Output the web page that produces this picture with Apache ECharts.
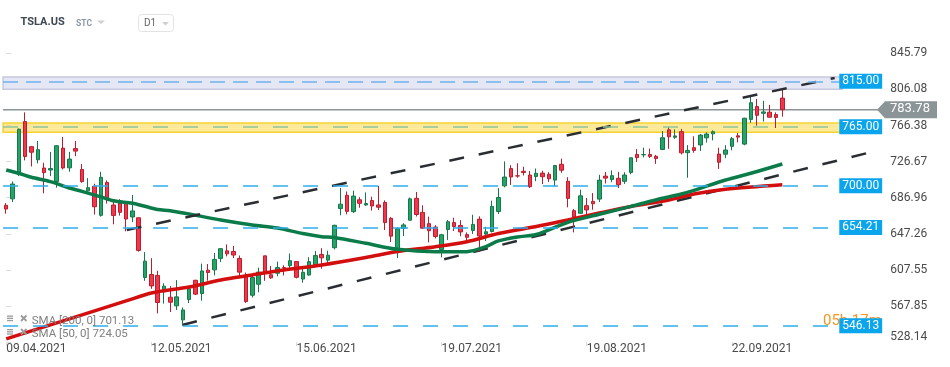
<!DOCTYPE html>
<html><head><meta charset="utf-8">
<script src="https://cdn.jsdelivr.net/npm/echarts@6/dist/echarts.min.js"></script>
<style>html,body{margin:0;padding:0;background:#fff;}#c{width:950px;height:367px;}</style>
</head><body><div id="c"></div>
<script>
const dates = ['09.04.2021','12.04.2021','13.04.2021','14.04.2021','15.04.2021','16.04.2021','19.04.2021','20.04.2021','21.04.2021','22.04.2021','23.04.2021','26.04.2021','27.04.2021','28.04.2021','29.04.2021','30.04.2021',
'03.05.2021','04.05.2021','05.05.2021','06.05.2021','07.05.2021','10.05.2021','11.05.2021','12.05.2021','13.05.2021','14.05.2021','17.05.2021','18.05.2021','19.05.2021','20.05.2021','21.05.2021','24.05.2021','25.05.2021','26.05.2021','27.05.2021','28.05.2021',
'01.06.2021','02.06.2021','03.06.2021','04.06.2021','07.06.2021','08.06.2021','09.06.2021','10.06.2021','11.06.2021','14.06.2021','15.06.2021','16.06.2021','17.06.2021','18.06.2021','21.06.2021','22.06.2021','23.06.2021','24.06.2021','25.06.2021','28.06.2021','29.06.2021','30.06.2021',
'01.07.2021','02.07.2021','06.07.2021','07.07.2021','08.07.2021','09.07.2021','12.07.2021','13.07.2021','14.07.2021','15.07.2021','16.07.2021','19.07.2021','20.07.2021','21.07.2021','22.07.2021','23.07.2021','26.07.2021','27.07.2021','28.07.2021','29.07.2021','30.07.2021',
'02.08.2021','03.08.2021','04.08.2021','05.08.2021','06.08.2021','09.08.2021','10.08.2021','11.08.2021','12.08.2021','13.08.2021','16.08.2021','17.08.2021','18.08.2021','19.08.2021','20.08.2021','23.08.2021','24.08.2021','25.08.2021','26.08.2021','27.08.2021','30.08.2021','31.08.2021',
'01.09.2021','02.09.2021','03.09.2021','07.09.2021','08.09.2021','09.09.2021','10.09.2021','13.09.2021','14.09.2021','15.09.2021','16.09.2021','17.09.2021','20.09.2021','21.09.2021','22.09.2021','23.09.2021','24.09.2021','27.09.2021','28.09.2021','29.09.2021','30.09.2021',
'01.10.2021','04.10.2021'];
const futureDates = ['05.10.2021','06.10.2021','07.10.2021','08.10.2021','11.10.2021','12.10.2021','13.10.2021','14.10.2021','15.10.2021'];

const opens = [678.6,685.7,712.7,770.7,743.1,728.7,719.6,717.4,704.8,741.5,719.8,741.0,718.0,694.5,699.5,667.6,
703.8,678.9,681.1,680.8,665.8,664.9,599.2,602.5,601.5,583.4,577.5,568.0,552.6,575.0,596.1,581.6,607.3,607.6,620.2,628.5,
627.8,620.1,601.8,579.7,591.8,623.0,602.2,603.9,610.2,612.2,616.7,597.5,601.9,613.4,624.5,618.3,632.0,675.0,689.6,671.6,684.7,679.0,
683.9,679.0,681.7,664.3,628.4,653.2,662.2,686.3,670.8,658.4,654.7,629.9,652.0,659.6,656.4,646.4,651.0,663.4,647.0,649.8,671.8,
700.0,719.0,711.0,716.0,711.9,710.2,714.0,712.7,706.3,723.7,705.1,672.7,669.8,678.2,682.9,685.4,710.7,707.0,708.3,705.0,714.7,734.5,
734.1,734.5,732.5,740.0,761.6,753.4,759.6,736.5,742.0,745.0,752.8,757.2,735.0,734.8,743.5,755.0,745.9,773.1,787.2,779.8,781.0,
778.4,796.5];
const highs = [681.0,704.8,763.0,780.8,743.7,749.4,725.4,737.3,744.8,753.8,737.4,749.3,724.0,708.5,702.3,715.5,
706.0,683.5,685.3,681.0,690.0,665.1,627.1,620.4,606.5,592.9,589.7,596.3,566.2,588.9,596.7,614.5,614.0,626.2,631.1,635.6,
633.8,623.4,604.6,600.6,610.0,623.1,611.8,616.6,612.6,625.5,616.8,608.5,621.5,628.4,631.4,628.6,657.2,697.6,693.8,694.7,687.5,692.8,
688.0,700.0,684.0,665.7,654.4,658.9,687.2,693.3,678.6,666.1,656.7,647.2,662.4,664.9,662.2,648.8,668.2,666.5,655.0,683.7,697.5,
726.9,722.7,724.9,721.0,716.3,719.0,716.6,715.2,722.8,729.9,709.5,674.6,695.8,686.6,692.1,712.1,715.2,717.0,715.4,715.0,731.0,740.4,
742.0,741.0,734.0,760.2,764.5,762.1,762.6,744.8,754.5,756.9,758.9,761.0,742.0,744.7,753.7,758.2,774.8,799.0,795.6,793.5,789.1,
780.8,807.0];
const lows = [669.4,682.1,710.7,728.0,721.3,724.6,691.8,710.7,698.0,718.0,715.5,732.6,703.4,693.6,668.5,666.1,
680.5,657.7,667.3,650.0,660.2,627.6,595.6,586.8,559.7,570.5,561.2,563.4,547.0,571.1,580.0,573.7,595.7,601.5,616.2,622.4,
620.6,599.1,571.2,577.2,582.9,595.5,597.6,600.5,601.5,609.2,598.2,593.5,601.3,611.8,608.9,615.5,630.0,667.6,668.7,670.3,675.9,678.1,
672.8,673.3,651.4,638.3,620.5,644.7,662.2,666.3,652.8,637.9,642.2,621.3,640.5,650.3,644.6,637.3,647.1,627.2,639.4,648.8,669.0,
698.4,701.0,708.9,711.4,697.6,705.1,701.9,704.2,699.4,714.3,676.4,648.8,669.4,667.6,673.7,682.3,702.6,704.0,697.6,702.1,712.7,726.4,
731.3,730.5,724.2,739.3,740.8,751.6,734.5,708.9,736.4,738.4,747.6,750.0,718.6,730.4,739.1,747.9,744.6,769.3,766.2,770.7,775.0,
763.6,776.1];
const closes = [674.5,702.0,762.3,732.2,737.0,739.8,714.6,719.0,744.1,719.7,729.4,738.2,704.7,698.0,677.0,709.4,
684.9,667.5,670.9,663.5,672.4,629.0,617.2,589.9,571.7,589.7,572.0,577.9,563.5,586.8,580.9,606.4,604.7,619.1,630.9,625.2,
623.9,605.1,572.8,599.1,605.1,603.6,598.8,610.1,609.9,617.7,599.4,604.9,616.6,623.3,620.8,623.7,656.6,679.8,671.9,688.7,680.8,680.5,
677.9,676.5,659.6,644.7,652.8,657.0,685.7,668.5,653.4,650.6,644.2,646.2,660.5,655.3,649.3,643.4,657.6,644.8,649.5,677.4,687.2,
709.7,709.7,710.9,714.6,699.1,713.8,710.0,707.8,722.3,717.2,686.2,665.7,689.0,673.5,680.3,706.3,708.5,711.2,701.2,711.9,730.9,731.0,
734.5,732.4,730.0,752.9,753.9,754.9,736.3,739.0,739.0,755.8,757.0,759.5,726.0,739.4,751.9,753.6,774.4,791.4,777.6,781.3,775.5,
775.2,783.78];

// SMA values at [candle index, price]
const sma200Points = [[0,531.6],[19,573.4],[23,582.2],[29,588.7],[34,596.5],[39,602],[44,607.5],[50,613],[57,621.2],[62,627.8],[68,633.1],[73,638.6],[78,647.6],[84,655.3],[89,662.4],[94,670.1],[99,677.3],[105,684.4],[109,691],[114,696.2],[123,701.13]];
const sma50Points = [[0,717.4],[2,713.8],[4,709.4],[7,704.6],[10,697.6],[12,693.9],[15,687.9],[17,683.6],[20,680.8],[22,677.5],[24,674],[26,672.7],[29,669],[34,662.5],[39,657],[43,653.6],[47,647.5],[50,644.1],[52,643.2],[57,636.8],[62,630.2],[68,627.6],[73,627.6],[76,633.1],[78,639.4],[81,643.8],[84,646.5],[89,659.9],[94,668.7],[99,677.4],[104,686.3],[107,691],[109,695],[114,706.4],[118,713.8],[123,724.05]];

// channel lines as [candle index, price]
const upperChannel = [[19.1,651.4],[131.3,818.7]];
const lowerChannel = [[27.9,547.0],[138.5,739.6]];

const yTickLabels = ['528.14','567.85','607.55','647.26','686.96','726.67','766.38','806.08','845.79'];
const yMin = 528.14, yMax = 845.79;
const resistanceBand = [806.3, 819.6];
const supportBand = [758.9, 769.1];
const resistanceLevel = 815.00;
const supportLevel = 765.00;
const otherLevels = [700.00, 654.21, 546.13];
const currentPrice = 783.78;
const legendTexts = ['SMA [200, 0] 701.13', 'SMA [50, 0] 724.05'];
const symbolName = 'TSLA.US', symbolType = 'STC', timeframe = 'D1', countdown = '05h 17m';

const N = dates.length + futureDates.length;
const chart = echarts.init(document.getElementById('c'), null, {renderer: 'canvas'});
const FONT = 'Roboto';
const boxLabel = {
  show: true, position: 'end', distance: -3,
  formatter: p => Number(p.value).toFixed(2),
  color: '#fff', backgroundColor: '#0aa5ec', fontFamily: FONT, fontSize: 12,
  padding: [2, 3, 1, 3], lineHeight: 12
};
const levelLineStyle = {color: '#2eaeee', type: [15, 15], width: 1.5};

const option = {
  animation: false,
  grid: {left: 3.05, top: 53.3, width: N * 6.31, height: 288.8, containLabel: false},
  xAxis: [{
    type: 'category', data: dates.concat(futureDates), boundaryGap: true,
    axisLine: {show: false},
    axisTick: {show: true, alignWithLabel: true, interval: 22, length: 4, lineStyle: {color: '#d9d9d9'}},
    axisLabel: {interval: 22, align: 'left', margin: 1, color: '#4a4a4a', fontSize: 12, fontFamily: FONT},
    splitLine: {show: false}
  }, {
    type: 'value', min: -0.5, max: N - 0.5, show: false, position: 'top'
  }],
  yAxis: [{
    type: 'value', position: 'right', min: yMin, max: yMax, interval: (yMax - yMin) / 8,
    offset: 40, scale: true,
    axisLine: {show: false},
    axisTick: {show: true, length: 5, lineStyle: {color: '#dcdcdc'}},
    splitLine: {show: false},
    axisLabel: {
      margin: 8, color: '#4a4a4a', fontSize: 12, fontFamily: FONT,
      formatter: (v, i) => i === 0 ? '{lo|' + yTickLabels[0] + '}' : yTickLabels[i],
      rich: {lo: {padding: [0, 0, 10, 0], color: '#4a4a4a', fontSize: 12, fontFamily: FONT}}
    }
  }],
  series: [
    {
      type: 'candlestick', xAxisIndex: 0, yAxisIndex: 0, z: 3, barWidth: 4,
      data: opens.map((o, i) => [o, closes[i], lows[i], highs[i]]),
      itemStyle: {color: '#25a468', color0: '#f0374c', borderColor: '#15774a', borderColor0: '#b81e2e', borderWidth: 1}
    },
    {
      type: 'line', xAxisIndex: 1, yAxisIndex: 0, z: 4, data: sma200Points, showSymbol: false, smooth: 0.3,
      lineStyle: {color: '#d20e0e', width: 3.5}
    },
    {
      type: 'line', xAxisIndex: 1, yAxisIndex: 0, z: 4, data: sma50Points, showSymbol: false, smooth: 0.3,
      lineStyle: {color: '#0c7b4a', width: 3.5}
    },
    {
      type: 'line', xAxisIndex: 1, yAxisIndex: 0, z: 4, data: upperChannel, showSymbol: false, clip: false,
      lineStyle: {color: '#2a2e33', width: 2.5, type: [15, 15]}
    },
    {
      type: 'line', xAxisIndex: 1, yAxisIndex: 0, z: 6, data: [], silent: true,
      markArea: {
        silent: true,
        data: [
          [{yAxis: resistanceBand[0], itemStyle: {color: 'rgba(150,158,210,0.25)', borderColor: '#c6c9df', borderWidth: 1.5}}, {yAxis: resistanceBand[1]}],
          [{yAxis: supportBand[0], itemStyle: {color: 'rgba(247,200,0,0.4)', borderColor: '#f6d331', borderWidth: 1.5}}, {yAxis: supportBand[1]}]
        ]
      }
    },
    {
      type: 'line', xAxisIndex: 1, yAxisIndex: 0, z: 7, data: [], silent: true,
      markLine: {
        silent: true, symbol: ['none', 'none'], animation: false,
        data: [
          {yAxis: resistanceLevel, lineStyle: {color: '#6fb3ee', type: [15, 8], width: 1.5}, label: boxLabel},
          {yAxis: supportLevel, lineStyle: {color: '#8fc39c', type: [15, 15], width: 1.5}, label: boxLabel}
        ].concat(otherLevels.map(v => ({yAxis: v, lineStyle: levelLineStyle, label: boxLabel})))
      }
    }
  ]
};
chart.setOption(option);

// lines that run past the plot edge: projected through the chart's own axes
const toPx = p => chart.convertToPixel({xAxisIndex: 1, yAxisIndex: 0}, p);
const lc0 = toPx(lowerChannel[0]), lc1 = toPx(lowerChannel[1]);
const cp0 = toPx([-0.5, currentPrice]);
const py = cp0[1];
const py2 = chart.convertToPixel({yAxisIndex: 0}, otherLevels[2]);
const gray = '#9b9b9b';
function menuIcon(x, y) {
  return [0, 1, 2].map(k => ({type: 'rect', shape: {x: x, y: y + k * 2.2, width: 6, height: 1.3}, style: {fill: gray}, z: 10}));
}
function crossIcon(x, y) {
  return [
    {type: 'line', shape: {x1: x, y1: y, x2: x + 5.5, y2: y + 5.5}, style: {stroke: gray, lineWidth: 1.8}, z: 10},
    {type: 'line', shape: {x1: x + 5.5, y1: y, x2: x, y2: y + 5.5}, style: {stroke: gray, lineWidth: 1.8}, z: 10}
  ];
}
const graphics = [
  {type: 'line', shape: {x1: cp0[0], y1: py, x2: 878, y2: py}, style: {stroke: '#8a9396', lineWidth: 1.5}, z: 2},
  {type: 'line', shape: {x1: lc0[0], y1: lc0[1], x2: lc1[0], y2: lc1[1]}, style: {stroke: '#2a2e33', lineWidth: 2.5, lineDash: [15, 15]}, z: 2},
  {type: 'text', left: 20.5, top: 17, style: {text: symbolName, fill: '#3d4852', font: 'bold 11px Roboto'}, z: 10},
  {type: 'text', left: 76, top: 19.5, style: {text: symbolType, fill: '#8b98a8', font: 'bold 8.5px Roboto'}, z: 10},
  {type: 'polygon', shape: {points: [[97, 20.5], [105, 20.5], [101, 24]]}, style: {fill: '#cfcfcf'}, z: 10},
  {type: 'rect', shape: {x: 138.5, y: 14.5, width: 35, height: 17, r: 3}, style: {fill: '#fff', stroke: '#e3e3e3', lineWidth: 1}, z: 10},
  {type: 'text', left: 144, top: 18, style: {text: timeframe, fill: '#666', font: '10px Roboto'}, z: 11},
  {type: 'polygon', shape: {points: [[162, 22], [169, 22], [165.5, 25.5]]}, style: {fill: '#cfcfcf'}, z: 11},
  {type: 'text', left: 823, top: py2 - 12, style: {text: countdown, fill: '#f7941d', font: '15px Roboto'}, z: 1},
  {type: 'polygon', shape: {points: [[877, py], [885, py - 8.5], [937, py - 8.5], [937, py + 8.5], [885, py + 8.5]]}, style: {fill: '#8b9598'}, z: 12},
  {type: 'text', left: 890, top: py - 7, style: {text: currentPrice.toFixed(2), fill: '#fff', font: '13px Roboto'}, z: 13},
  {type: 'text', left: 31.7, top: 314.8, style: {text: legendTexts[0], fill: '#808080', font: '11.5px Roboto'}, z: 10},
  {type: 'text', left: 31.7, top: 328.3, style: {text: legendTexts[1], fill: '#808080', font: '11.5px Roboto'}, z: 10}
].concat(menuIcon(7, 315.5), crossIcon(21, 315.5), menuIcon(7, 329), crossIcon(21, 329));
chart.setOption({graphic: graphics});
</script>
</body></html>
